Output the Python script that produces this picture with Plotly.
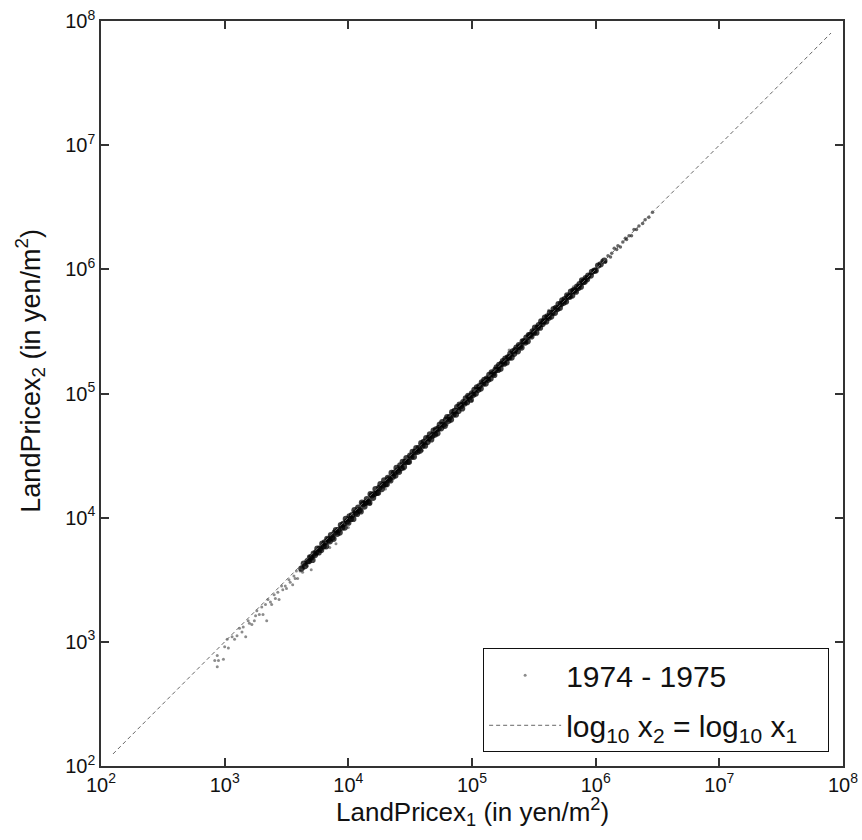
import plotly.graph_objects as go

# ---- data (log10 of land price in yen/m^2) ----
# sparse low-price points
low_log_x1 = [2.92, 2.94, 2.94, 2.95, 2.99, 3.00, 3.02, 3.03, 3.06, 3.08,
              3.10, 3.12, 3.14, 3.15, 3.17, 3.19, 3.20, 3.22, 3.24, 3.25,
              3.26, 3.28, 3.30, 3.31, 3.33, 3.34, 3.35, 3.37, 3.38, 3.40,
              3.41, 3.43, 3.44, 3.46, 3.47, 3.49, 3.50, 3.52, 3.53, 3.55,
              3.56, 3.57, 3.58, 3.59, 3.61, 3.62, 3.63, 3.64, 3.66, 3.67]
low_log_ratio = [-0.07, -0.05, -0.14, -0.10, -0.13, -0.04, 0.00, -0.08, -0.02, -0.06,
                 -0.05, -0.01, -0.06, -0.03, -0.13, -0.02, -0.05, -0.08, -0.07, -0.04,
                 -0.01, -0.06, -0.02, -0.09, -0.03, -0.17, -0.01, -0.05, -0.08, -0.02,
                 -0.06, -0.03, -0.10, -0.01, -0.05, -0.04, -0.07, -0.02, -0.05, -0.09,
                 -0.03, -0.06, -0.01, -0.08, -0.04, -0.02, -0.07, -0.05, -0.03, -0.06]

# dense band
band_log_x1 = [
    3.62, 3.64, 3.65, 3.67, 3.68, 3.69, 3.70, 3.71, 3.72, 3.73, 3.74,
    3.75, 3.76, 3.77, 3.78, 3.79, 3.80, 3.81, 3.82, 3.83, 3.84,
    3.85, 3.86, 3.87, 3.88, 3.89, 3.90, 3.91, 3.92, 3.93, 3.94,
    3.95, 3.96, 3.97, 3.98, 3.99, 4.00, 4.01, 4.02, 4.03, 4.04,
    4.05, 4.06, 4.07, 4.08, 4.09, 4.10, 4.11, 4.12, 4.13, 4.14,
    4.15, 4.16, 4.17, 4.18, 4.19, 4.20, 4.21, 4.22, 4.23, 4.24,
    4.25, 4.26, 4.27, 4.28, 4.29, 4.30, 4.31, 4.32, 4.33, 4.34,
    4.35, 4.36, 4.37, 4.38, 4.39, 4.40, 4.41, 4.42, 4.43, 4.44,
    4.45, 4.46, 4.47, 4.48, 4.49, 4.50, 4.51, 4.52, 4.53, 4.54,
    4.55, 4.56, 4.57, 4.58, 4.59, 4.60, 4.61, 4.62, 4.63, 4.64,
    4.65, 4.66, 4.67, 4.68, 4.69, 4.70, 4.71, 4.72, 4.73, 4.74,
    4.75, 4.76, 4.77, 4.78, 4.79, 4.80, 4.81, 4.82, 4.83, 4.84,
    4.85, 4.86, 4.87, 4.88, 4.89, 4.90, 4.91, 4.92, 4.93, 4.94,
    4.95, 4.96, 4.97, 4.98, 4.99, 5.00, 5.01, 5.02, 5.03, 5.04,
    5.05, 5.06, 5.07, 5.08, 5.09, 5.10, 5.11, 5.12, 5.13, 5.14,
    5.15, 5.16, 5.17, 5.18, 5.19, 5.20, 5.21, 5.22, 5.23, 5.24,
    5.25, 5.26, 5.27, 5.28, 5.29, 5.30, 5.31, 5.32, 5.33, 5.34,
    5.35, 5.36, 5.37, 5.38, 5.39, 5.40, 5.41, 5.42, 5.43, 5.44,
    5.45, 5.46, 5.47, 5.48, 5.49, 5.50, 5.51, 5.52, 5.53, 5.54,
    5.55, 5.56, 5.57, 5.58, 5.59, 5.60, 5.61, 5.62, 5.63, 5.64,
    5.65, 5.66, 5.67, 5.68, 5.69, 5.70, 5.71, 5.72, 5.73, 5.74,
    5.75, 5.76, 5.77, 5.78, 5.79, 5.80, 5.81, 5.82, 5.83, 5.84,
    5.85, 5.86, 5.87, 5.88, 5.89, 5.90, 5.91, 5.92, 5.93, 5.94,
    5.96, 5.97, 5.99, 6.00, 6.02, 6.04, 6.07]
band_log_ratio = [
    -0.03, -0.01, -0.04, -0.02, -0.03, -0.01, -0.02, -0.05, -0.01, -0.03, -0.02,
    0.00, -0.04, -0.02, -0.04, 0.00, -0.03, -0.01, -0.05, 0.00, -0.02,
    -0.04, 0.00, -0.03, -0.05, -0.01, 0.00, -0.04, -0.02, -0.05, 0.00,
    -0.03, -0.01, -0.05, 0.01, -0.02, -0.04, 0.00, -0.03, -0.01, -0.05,
    0.01, -0.02, -0.04, 0.00, -0.03, -0.05, 0.01, -0.01, -0.04, -0.02,
    0.00, -0.03, -0.05, 0.01, -0.01, -0.04, -0.02, 0.01, -0.03, -0.04,
    -0.01, 0.01, -0.04, -0.02, 0.01, -0.03, -0.04, 0.00, -0.02, -0.04,
    0.01, -0.03, -0.01, -0.04, 0.01, -0.02, -0.04, 0.00, -0.03, 0.01,
    -0.04, -0.01, 0.01, -0.03, -0.04, 0.00, -0.02, 0.01, -0.04, -0.01,
    0.01, -0.03, -0.01, -0.04, 0.01, -0.02, 0.00, -0.04, 0.01, -0.03,
    -0.01, 0.01, -0.04, -0.02, 0.01, -0.03, 0.00, -0.04, -0.01, 0.01,
    -0.03, 0.01, -0.02, -0.04, 0.00, 0.01, -0.03, -0.01, -0.04, 0.01,
    -0.02, 0.00, -0.04, 0.01, -0.03, 0.01, -0.01, -0.04, 0.00, -0.02,
    0.01, -0.03, 0.01, -0.01, -0.04, 0.00, -0.02, 0.01, -0.03, 0.01,
    -0.02, 0.00, -0.03, 0.01, -0.01, 0.01, -0.03, 0.00, -0.02, 0.01,
    -0.03, 0.01, -0.01, -0.03, 0.00, 0.01, -0.02, 0.01, -0.03, 0.00,
    0.01, -0.02, 0.01, -0.03, 0.00, -0.01, 0.01, -0.03, 0.01, -0.02,
    0.00, 0.01, -0.03, 0.01, -0.01, -0.03, 0.01, 0.00, -0.02, 0.01,
    -0.03, 0.01, 0.00, -0.02, 0.01, -0.01, 0.02, -0.03, 0.00, 0.01,
    -0.02, 0.02, -0.01, 0.00, 0.02, -0.02, 0.01, -0.01, 0.02, -0.02,
    0.00, 0.02, -0.02, 0.01, -0.01, 0.02, -0.02, 0.00, 0.02, -0.01,
    0.01, -0.02, 0.02, 0.00, -0.01, 0.02, -0.02, 0.01, 0.00, -0.02,
    0.01, -0.01, 0.01, -0.02, 0.02, 0.00, -0.01, 0.01, -0.01, 0.01,
    -0.01, 0.01, 0.00, -0.01, 0.01, 0.00, 0.00]

# scattered points off the band
outlier_log_x1 = [3.70, 3.85, 3.90, 4.00, 4.18, 4.30, 4.45, 4.60, 4.80, 5.00, 5.30, 5.62, 5.82]
outlier_log_ratio = [-0.12, -0.09, -0.11, -0.08, -0.07, -0.07, -0.06, -0.06, -0.05, -0.06, 0.05, 0.05, 0.04]

# sparse high-price points
high_log_x1 = [6.05, 6.08, 6.10, 6.12, 6.13, 6.15, 6.17, 6.18, 6.20, 6.22, 6.24, 6.25,
               6.27, 6.29, 6.31, 6.33, 6.35, 6.38, 6.40, 6.43, 6.46]
high_log_ratio = [0.02, -0.02, 0.01, -0.02, 0.00, 0.02, -0.01, 0.01, -0.02, 0.00, 0.01, -0.01,
                  0.00, -0.02, 0.01, -0.01, 0.00, -0.01, 0.00, -0.01, 0.00]

# reference line log10 x2 = log10 x1
line_x = [1.25e2, 8.0e7]

tick_vals = [1e2, 1e3, 1e4, 1e5, 1e6, 1e7, 1e8]
tick_text = ["10<sup>2</sup>", "10<sup>3</sup>", "10<sup>4</sup>", "10<sup>5</sup>",
             "10<sup>6</sup>", "10<sup>7</sup>", "10<sup>8</sup>"]

# ---- build ----
def to_prices(lx, lr):
    return [10 ** a for a in lx], [10 ** (a + r) for a, r in zip(lx, lr)]

band_x1, band_x2 = to_prices(band_log_x1, band_log_ratio)
low_x1, low_x2 = to_prices(low_log_x1 + outlier_log_x1, low_log_ratio + outlier_log_ratio)
hi_x1, hi_x2 = to_prices(high_log_x1, high_log_ratio)

FONT = "Liberation Sans, Arial, sans-serif"

fig = go.Figure()
fig.add_trace(go.Scatter(
    x=band_x1, y=band_x2, mode="markers", name="1974 - 1975",
    legendgroup="pts", showlegend=False,
    marker=dict(color="rgba(0,0,0,0.75)", size=6.3, line=dict(width=0)),
))
fig.add_trace(go.Scatter(
    x=hi_x1, y=hi_x2, mode="markers", name="1974 - 1975",
    legendgroup="pts", showlegend=False,
    marker=dict(color="rgba(0,0,0,0.6)", size=3.5, line=dict(width=0)),
))
fig.add_trace(go.Scatter(
    x=low_x1, y=low_x2, mode="markers", name="1974 - 1975",
    legendgroup="pts", showlegend=True,
    marker=dict(color="rgba(0,0,0,0.45)", size=3, line=dict(width=0)),
))
fig.add_trace(go.Scatter(
    x=line_x, y=line_x, mode="lines",
    name="log<sub>10</sub> x<sub>2</sub> = log<sub>10</sub> x<sub>1</sub>\u00a0\u00a0\u00a0",
    line=dict(color="#666666", width=1, dash="4px,3px"),
))

axis_common = dict(
    type="log", range=[2, 8], tickmode="array", tickvals=tick_vals, ticktext=tick_text,
    ticks="inside", ticklen=8, tickwidth=1.5, tickcolor="#333333",
    showline=True, linecolor="#333333", linewidth=1.5, mirror="ticks",
    showgrid=False, zeroline=False, automargin=False,
    tickfont=dict(family=FONT, size=20, color="#111111"),
)

fig.update_layout(
    width=862, height=840,
    margin=dict(l=101, r=19, t=21, b=74),
    paper_bgcolor="white", plot_bgcolor="white",
    font=dict(family=FONT, color="#111111"),
    xaxis=dict(**axis_common),
    yaxis=dict(**axis_common),
    legend=dict(x=0.515, y=0.158, xanchor="left", yanchor="top",
                bgcolor="white", bordercolor="#111111", borderwidth=1,
                font=dict(family=FONT, size=30), itemwidth=72,
                traceorder="grouped", tracegroupgap=8),
    showlegend=True,
    annotations=[
        dict(text="LandPricex<sub>1</sub> (in yen/m<sup>2</sup>)", xref="paper", yref="paper",
             x=0.5, y=-0.062, xanchor="center", yanchor="middle", showarrow=False,
             font=dict(family=FONT, size=26, color="#111111")),
        dict(text="LandPricex<sub>2</sub> (in yen/m<sup>2</sup>)", xref="paper", yref="paper",
             x=-0.095, y=0.53, xanchor="center", yanchor="middle", showarrow=False,
             textangle=-90, font=dict(family=FONT, size=27, color="#111111")),
    ],
)

fig.write_html("out.html")
